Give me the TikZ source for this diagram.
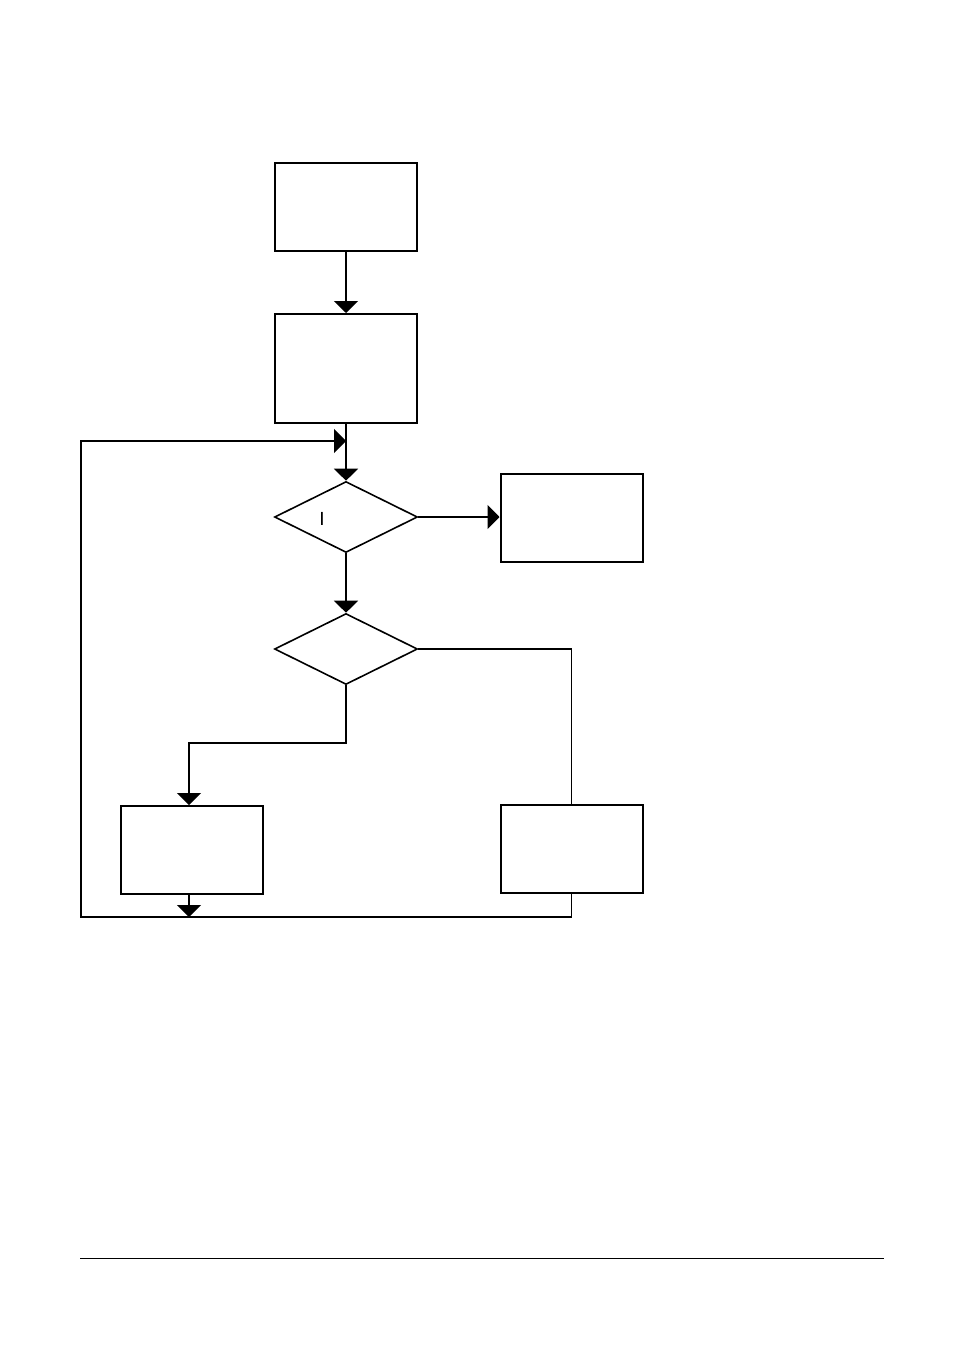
\documentclass[tikz,border=0pt]{standalone}
\usepackage{fontspec}
\setmainfont{Liberation Sans}
\usetikzlibrary{shapes.geometric,arrows.meta}

\tikzset{every picture/.style={line width=1.6pt}}
\tikzset{
  procbox/.style={draw, line width=2pt, minimum width=142pt, minimum height=88pt, inner sep=0pt},
  testdiam/.style={draw, diamond, minimum width=143pt, minimum height=71pt, inner sep=0pt},
  flow/.style={-{Triangle[width=24pt,length=12pt]}},
}

\begin{document}
\begin{tikzpicture}[x=1pt,y=1pt,yscale=-1,xscale=1]
\useasboundingbox (0,0) rectangle (954,1346); %same page as the reference

%Shape: Rectangle
\node[procbox] (start) at (346,206.5) {};
%Shape: Rectangle
\node[procbox, minimum height=109pt] (read) at (346,368.5) {};
%Flowchart: Decision
\node[testdiam] (test1) at (346,517) {};
%Shape: Rectangle
\node[procbox] (done) at (571.5,518) {};
%Flowchart: Decision
\node[testdiam] (test2) at (346,649) {};
%Shape: Rectangle
\node[procbox] (calc) at (192,850) {};
%Shape: Rectangle
\node[procbox] (upd) at (571.5,849) {};

% Text Node
\node[font=\fontsize{19}{22}\selectfont] (mark) at (322,519) {I};

%Straight Lines
\coordinate (join) at (346,441);
\coordinate (split) at (346,743);
\coordinate (merge) at (189,917);
\coordinate (corner) at (81,917);

\draw[flow] (start.south) -- (read.north);
\draw[flow] (read.south) -- (test1.north);
\draw[flow] (test1.east) -- (test1.east -| done.west);
\draw[flow] (test1.south) -- (test2.north);
\draw (test2.east) -| (upd.north);
\draw[flow] (test2.south) -- (split) -| (merge |- calc.north);
\draw[flow] (merge |- calc.south) -- (merge);
\draw[flow] (upd.south) |- (corner) |- (join);

%Page rule
\coordinate (ruleL) at (80,1258);
\coordinate (ruleR) at (884,1258);
\draw[line width=1pt] (ruleL) -- (ruleR);

\end{tikzpicture}
\end{document}
